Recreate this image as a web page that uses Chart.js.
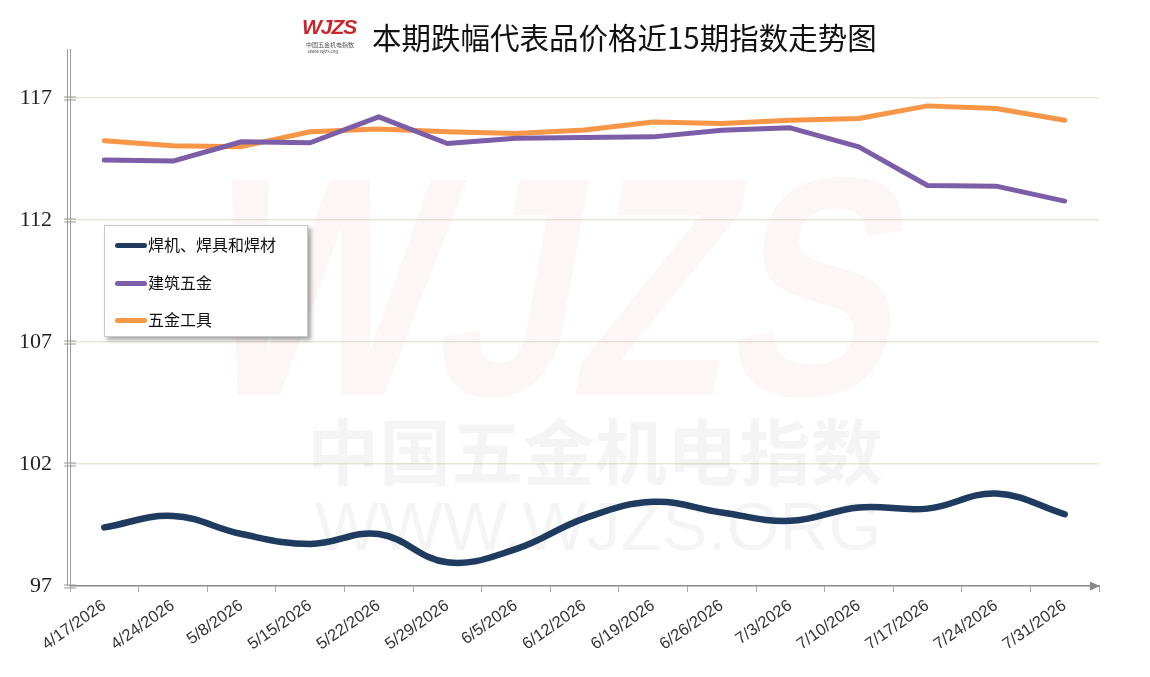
<!DOCTYPE html>
<html lang="zh">
<head>
<meta charset="UTF-8">
<title>本期跌幅代表品价格近15期指数走势图</title>
<script src="https://cdn.jsdelivr.net/npm/chart.js"></script>
<style>
  html, body { margin: 0; padding: 0; background: #fff; }
  #wrap { position: relative; width: 1150px; height: 677px; overflow: hidden; }
  #chart { position: absolute; left: 0; top: 0; }
  #title {
    position: absolute; left: 372px; top: 14px; height: 44px; line-height: 44px;
    font-family: "Noto Sans CJK SC", sans-serif; font-size: 29.5px;
    color: #111; white-space: nowrap;
  }
  #logo { position: absolute; left: 298px; top: 9px; width: 52px; height: 48px; }
  #logo .w { position: absolute; left: 4px; top: 6px; font: italic bold 21px "Liberation Sans", sans-serif; color: #c8262c; letter-spacing: -1px; }
  #logo .s1 { position: absolute; left: 8px; top: 31px; font: 6px "Noto Sans CJK SC", sans-serif; color: #555; white-space: nowrap; }
  #logo .s2 { position: absolute; left: 10px; top: 39px; font: italic 5px "Liberation Sans", sans-serif; color: #555; white-space: nowrap; }
  #legend {
    position: absolute; left: 104px; top: 225px; width: 202px; height: 110px;
    background: #fff; border: 1px solid #c8c8c8; box-shadow: 3px 3px 4px rgba(0,0,0,0.35);
    font-family: "Noto Sans CJK SC", sans-serif; font-size: 16px; color: #111;
  }
  #legend .row { position: absolute; left: 10px; height: 24px; line-height: 24px; white-space: nowrap; }
  #legend .sw { display: inline-block; width: 32px; height: 5px; border-radius: 3px; vertical-align: middle; margin-right: 1px; position: relative; top: -1px; }
</style>
</head>
<body>
<div id="wrap">
  <canvas id="chart" width="1150" height="677"></canvas>
  <div id="logo"><span class="w">WJZS</span><span class="s1">中国五金机电指数</span><span class="s2">www.wjzs.org</span></div>
  <div id="title">本期跌幅代表品价格近15期指数走势图</div>
  <div id="legend"></div>
</div>
<script>
const labels = ["4/17/2026", "4/24/2026", "5/8/2026", "5/15/2026", "5/22/2026", "5/29/2026", "6/5/2026",
  "6/12/2026", "6/19/2026", "6/26/2026", "7/3/2026", "7/10/2026", "7/17/2026", "7/24/2026", "7/31/2026"];
const seriesNames = ["焊机、焊具和焊材", "建筑五金", "五金工具"];
const welding = [99.4, 99.87, 99.13, 98.72, 99.13, 97.97, 98.51, 99.77, 100.45, 100.01, 99.67, 100.22, 100.17, 100.79, 99.94];
const building = [114.45, 114.41, 115.2, 115.16, 116.22, 115.13, 115.34, 115.37, 115.4, 115.67, 115.77, 114.99, 113.41, 113.38, 112.77];
const tools = [115.24, 115.04, 115.0, 115.61, 115.72, 115.61, 115.54, 115.68, 116.01, 115.95, 116.08, 116.15, 116.67, 116.56, 116.08];
const yTicks = [97, 102, 107, 112, 117];
const colors = ["#1f3b60", "#7b5ea7", "#f79646"];

// legend rows
const legend = document.getElementById("legend");
seriesNames.forEach((name, i) => {
  const row = document.createElement("div");
  row.className = "row";
  row.style.top = (6 + i * 37.5) + "px";
  row.innerHTML = '<span class="sw" style="background:' + colors[i] + '"></span>' + name;
  legend.appendChild(row);
});

// faint watermark, axis decorations
const decor = {
  id: "decor",
  beforeDatasetsDraw(chart) {
    const ctx = chart.ctx;
    ctx.save();
    ctx.translate(540, 395);
    ctx.transform(1, 0, -0.18, 1, 0, 0);
    ctx.scale(1, 1.25);
    ctx.font = "bold 250px 'Liberation Sans'";
    ctx.textAlign = "center";
    ctx.fillStyle = "rgba(225,110,110,0.06)";
    ctx.fillText("WJZS", 0, 0);
    ctx.restore();
    ctx.save();
    ctx.textAlign = "center";
    ctx.textBaseline = "middle";
    ctx.fillStyle = "rgba(0,0,0,0.045)";
    ctx.font = "bold 72px 'Noto Sans CJK SC'";
    ctx.fillText("中国五金机电指数", 595, 452);
    ctx.font = "68px 'Liberation Sans'";
    ctx.fillText("WWW.WJZS.ORG", 598, 531);
    ctx.restore();
  },
  afterDraw(chart) {
    const ctx = chart.ctx;
    const a = chart.chartArea;
    const y = chart.scales.y;
    ctx.save();
    ctx.strokeStyle = "#999";
    ctx.lineWidth = 1;
    // double y axis line
    ctx.beginPath();
    ctx.moveTo(a.left - 2.5, a.top);
    ctx.lineTo(a.left - 2.5, a.bottom);
    ctx.stroke();
    // double tick marks
    yTicks.forEach(v => {
      const py = Math.round(y.getPixelForValue(v)) + 0.5;
      ctx.beginPath();
      ctx.moveTo(a.left - 6, py - 1.5);
      ctx.lineTo(a.left + 6, py - 1.5);
      ctx.moveTo(a.left - 6, py + 1.5);
      ctx.lineTo(a.left + 6, py + 1.5);
      ctx.stroke();
    });
    // arrow at the end of the x axis
    ctx.fillStyle = "#888";
    ctx.beginPath();
    ctx.moveTo(a.right + 1, a.bottom);
    ctx.lineTo(a.right - 9, a.bottom - 4.5);
    ctx.lineTo(a.right - 9, a.bottom + 4.5);
    ctx.closePath();
    ctx.fill();
    ctx.restore();
  }
};

new Chart(document.getElementById("chart"), {
  type: "line",
  data: {
    labels: labels,
    datasets: [
      { label: seriesNames[0], data: welding, borderColor: colors[0], borderWidth: 6.5, tension: 0.4, pointRadius: 0, borderCapStyle: "round" },
      { label: seriesNames[1], data: building, borderColor: colors[1], borderWidth: 5, tension: 0, pointRadius: 0, borderCapStyle: "round", borderJoinStyle: "round" },
      { label: seriesNames[2], data: tools, borderColor: colors[2], borderWidth: 5, tension: 0, pointRadius: 0, borderCapStyle: "round", borderJoinStyle: "round" }
    ]
  },
  options: {
    responsive: false,
    animation: false,
    layout: { padding: { top: 49, right: 51, left: 0, bottom: 0 } },
    plugins: { legend: { display: false }, title: { display: false }, tooltip: { enabled: false } },
    scales: {
      x: {
        offset: true,
        grid: { offset: true, drawOnChartArea: false, tickColor: "#aaa", tickLength: 6 },
        border: { color: "#8c8c8c", width: 1.5 },
        ticks: { color: "#333", font: { family: "Liberation Sans", size: 16.5 }, minRotation: 35, maxRotation: 35, padding: 4 },
        afterFit(scale) { scale.height = 91; }
      },
      y: {
        min: 97,
        max: 119,
        afterBuildTicks(scale) { scale.ticks = yTicks.map(v => ({ value: v })); },
        grid: { color: "#e9e7da", lineWidth: 1.5, drawTicks: false },
        border: { color: "#999", width: 1 },
        ticks: { color: "#222", font: { family: "Liberation Serif", size: 22 }, padding: 18 },
        afterFit(scale) { scale.width = 70; }
      }
    }
  },
  plugins: [decor]
});
</script>
</body>
</html>
